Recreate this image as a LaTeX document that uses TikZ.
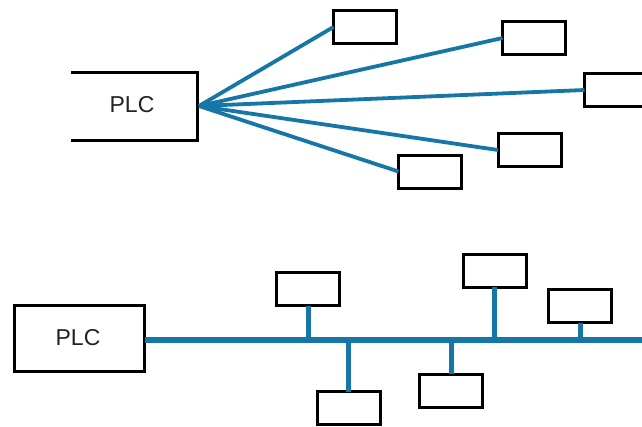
\documentclass[tikz,border=0pt]{standalone}
\usepackage{fontspec}
\setmainfont{Liberation Sans}
\definecolor{linecol}{RGB}{22,118,166}
\definecolor{txtcol}{RGB}{34,34,34}
\begin{document}
\begin{tikzpicture}[x=1pt,y=-1pt,
  dev/.style={draw=black,line width=3pt,inner sep=0pt,minimum width=63pt,minimum height=33pt,outer sep=0pt},
  plcbox/.style={draw=black,line width=3pt,inner sep=0pt,minimum width=130pt,minimum height=66pt,outer sep=0pt},
  lbl/.style={font=\fontsize{23}{26}\selectfont,text=txtcol,inner sep=0pt},
  star/.style={draw=linecol,line width=3.8pt},
  buswire/.style={draw=linecol,line width=6pt},
  stub/.style={draw=linecol,line width=5pt}]
\useasboundingbox (0,0) rectangle (642,426);
\fill[white] (0,0) rectangle (642,426);
% ---------- top: star wiring ----------
\draw[line width=3pt] (71,72) -- (197,72) -- (197,140) -- (71,140);
\node[lbl] (plcA) at (132,105) {PLC};
\coordinate (hub) at (199,106);
\node[dev] (t1) at (365,27) {};
\node[dev] (t2) at (534,38) {};
\node[dev] (t3) at (616,90) {};
\node[dev] (t4) at (529.5,150) {};
\node[dev] (t5) at (430,171.5) {};
\draw[star] (hub) -- (t1.west);
\draw[star] (hub) -- (t2.west);
\draw[star] (hub) -- (t3.west);
\draw[star] (hub) -- (t4.west);
\draw[star] (hub) -- (t5.west);
% ---------- bottom: bus wiring ----------
\node[plcbox] (plcB) at (79.5,338.5) {};
\node[lbl] at (78,338) {PLC};
\coordinate (busend) at (645,340);
\node[dev] (b1) at (308,289) {};
\node[dev] (b2) at (348.5,408) {};
\node[dev] (b3) at (451,390.5) {};
\node[dev] (b4) at (494.5,270.5) {};
\node[dev] (b5) at (580,306) {};
\draw[stub] (b1.south) -- (b1.south |- busend);
\draw[stub] (b2.north) -- (b2.north |- busend);
\draw[stub] (b3.north) -- (b3.north |- busend);
\draw[stub] (b4.south) -- (b4.south |- busend);
\draw[stub] (b5.south) -- (b5.south |- busend);
\draw[buswire] (plcB.east |- busend) -- (busend);
\end{tikzpicture}
\end{document}
